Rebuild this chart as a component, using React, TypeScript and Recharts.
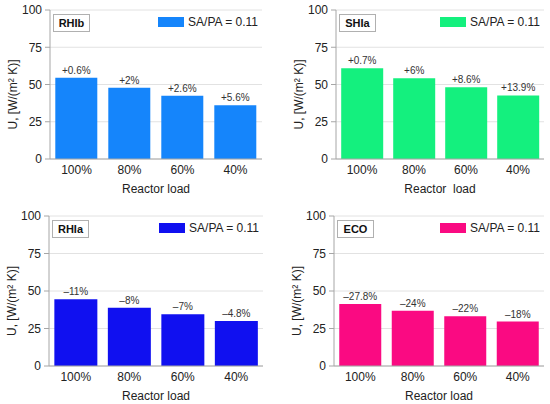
import React from 'react';
import { BarChart, Bar, XAxis, YAxis, CartesianGrid, LabelList } from 'recharts';

const loads = ['100%', '80%', '60%', '40%'];

const rhibValues = [54.6, 47.9, 42.5, 36.0];
const rhibLabels = ['+0.6%', '+2%', '+2.6%', '+5.6%'];
const shiaValues = [60.9, 54.2, 48.1, 42.7];
const shiaLabels = ['+0.7%', '+6%', '+8.6%', '+13.9%'];
const rhiaValues = [44.5, 38.9, 34.5, 30.0];
const rhiaLabels = ['–11%', '–8%', '–7%', '–4.8%'];
const ecoValues = [41.3, 36.9, 33.1, 29.6];
const ecoLabels = ['–27.8%', '–24%', '–22%', '–18%'];

const yTicks = [0, 25, 50, 75, 100];
const yMinorTicks = [12.5, 37.5, 62.5, 87.5];

const FONT = '"Liberation Sans", Arial, sans-serif';
const FRAME = '#a6a6a6';

type PanelProps = {
    name: string;
    color: string;
    values: number[];
    labels: string[];
    xTitle: string;
    left: number;
    top: number;
    width: number;
    height: number;
    plotLeft: number;
    plotRight: number;
    plotTop: number;
    plotBottom: number;
};

const Panel: React.FC<PanelProps> = (p) => {
    const data = loads.map((load, i) => ({ load, value: p.values[i], note: p.labels[i] }));

    return (
        <div style={{ position: 'absolute', left: p.left, top: p.top, width: p.width, height: p.height }}>
            <BarChart
                width={p.width}
                height={p.height}
                data={data}
                barCategoryGap="10%"
                margin={{ top: p.plotTop, right: p.width - p.plotRight, left: 0, bottom: 0 }}
            >
                <CartesianGrid vertical={false} stroke="#e2e2e2" />
                <YAxis
                    yAxisId="minor"
                    width={0}
                    domain={[0, 100]}
                    ticks={yMinorTicks}
                    tickFormatter={() => ''}
                    tickSize={3}
                    tickLine={{ stroke: FRAME }}
                    axisLine={false}
                />
                <YAxis
                    width={p.plotLeft}
                    domain={[0, 100]}
                    ticks={yTicks}
                    interval={0}
                    tickSize={5}
                    tickMargin={3}
                    tickLine={{ stroke: FRAME }}
                    axisLine={{ stroke: FRAME }}
                    tick={{ fill: '#222', fontSize: 12, fontFamily: FONT }}
                    label={{
                        content: ({ viewBox }: any) => {
                            const cx = viewBox.x + viewBox.width - 37;
                            const cy = viewBox.y + viewBox.height / 2 + 10;
                            return (
                                <text
                                    x={cx}
                                    y={cy}
                                    transform={`rotate(-90 ${cx} ${cy})`}
                                    textAnchor="middle"
                                    dominantBaseline="central"
                                    fontSize={12}
                                    fontFamily={FONT}
                                    fill="#222"
                                >
                                    U, [W/(m² K)]
                                </text>
                            );
                        },
                    }}
                />
                <YAxis
                    yAxisId="right"
                    orientation="right"
                    width={0}
                    domain={[0, 100]}
                    ticks={yTicks}
                    tick={false}
                    tickLine={false}
                    axisLine={{ stroke: FRAME }}
                />
                <XAxis
                    dataKey="load"
                    height={p.height - p.plotBottom}
                    tickLine={false}
                    tickSize={0}
                    tickMargin={6}
                    axisLine={{ stroke: FRAME }}
                    tick={{ fill: '#222', fontSize: 12, fontFamily: FONT }}
                    label={{
                        content: ({ viewBox }: any) => (
                            <text
                                x={viewBox.x + viewBox.width / 2}
                                y={viewBox.y + 30}
                                textAnchor="middle"
                                dominantBaseline="central"
                                fontSize={12}
                                fontFamily={FONT}
                                fill="#222"
                                style={{ whiteSpace: 'pre' }}
                            >
                                {p.xTitle}
                            </text>
                        ),
                    }}
                />
                <XAxis
                    xAxisId="top"
                    dataKey="load"
                    orientation="top"
                    height={0}
                    tick={false}
                    tickLine={false}
                    axisLine={{ stroke: FRAME }}
                />
                <Bar dataKey="value" fill={p.color} isAnimationActive={false}>
                    <LabelList
                        dataKey="note"
                        position="top"
                        offset={4}
                        fill="#333"
                        fontSize={10}
                        fontFamily={FONT}
                    />
                </Bar>
            </BarChart>

            <div
                style={{
                    position: 'absolute',
                    left: p.plotLeft + 3,
                    top: p.plotTop + 4,
                    width: 37,
                    height: 18,
                    border: '1px solid #b0b0b0',
                    background: '#fff',
                    boxSizing: 'border-box',
                    fontFamily: FONT,
                    fontWeight: 'bold',
                    fontSize: 11,
                    lineHeight: '16px',
                    textAlign: 'center',
                    color: '#111',
                }}
            >
                {p.name}
            </div>

            <div
                style={{
                    position: 'absolute',
                    right: p.width - p.plotRight + 4,
                    top: p.plotTop + 5,
                    height: 14,
                    display: 'flex',
                    alignItems: 'center',
                    fontFamily: FONT,
                    fontSize: 12,
                    color: '#222',
                    whiteSpace: 'nowrap',
                }}
            >
                <span style={{ display: 'inline-block', width: 26, height: 10, background: p.color, marginRight: 4 }} />
                SA/PA = 0.11
            </div>
        </div>
    );
};

export default function App() {
    return (
        <div style={{ position: 'absolute', left: 0, top: 0, width: 550, height: 404, background: '#fff', overflow: 'hidden' }}>
            <Panel name="RHIb" color="#1585fb" values={rhibValues} labels={rhibLabels} xTitle="Reactor load"
                left={0} top={0} width={275} height={200} plotLeft={50} plotRight={262} plotTop={10} plotBottom={159} />
            <Panel name="SHIa" color="#14f07e" values={shiaValues} labels={shiaLabels} xTitle={'Reactor\u00a0 load'}
                left={275} top={0} width={275} height={200} plotLeft={61} plotRight={269} plotTop={10} plotBottom={159} />
            <Panel name="RHIa" color="#1010f0" values={rhiaValues} labels={rhiaLabels} xTitle="Reactor load"
                left={0} top={200} width={275} height={204} plotLeft={49} plotRight={263} plotTop={16} plotBottom={166} />
            <Panel name="ECO" color="#fa0a82" values={ecoValues} labels={ecoLabels} xTitle="Reactor load"
                left={275} top={200} width={275} height={204} plotLeft={59} plotRight={269} plotTop={16} plotBottom={166} />
        </div>
    );
}
